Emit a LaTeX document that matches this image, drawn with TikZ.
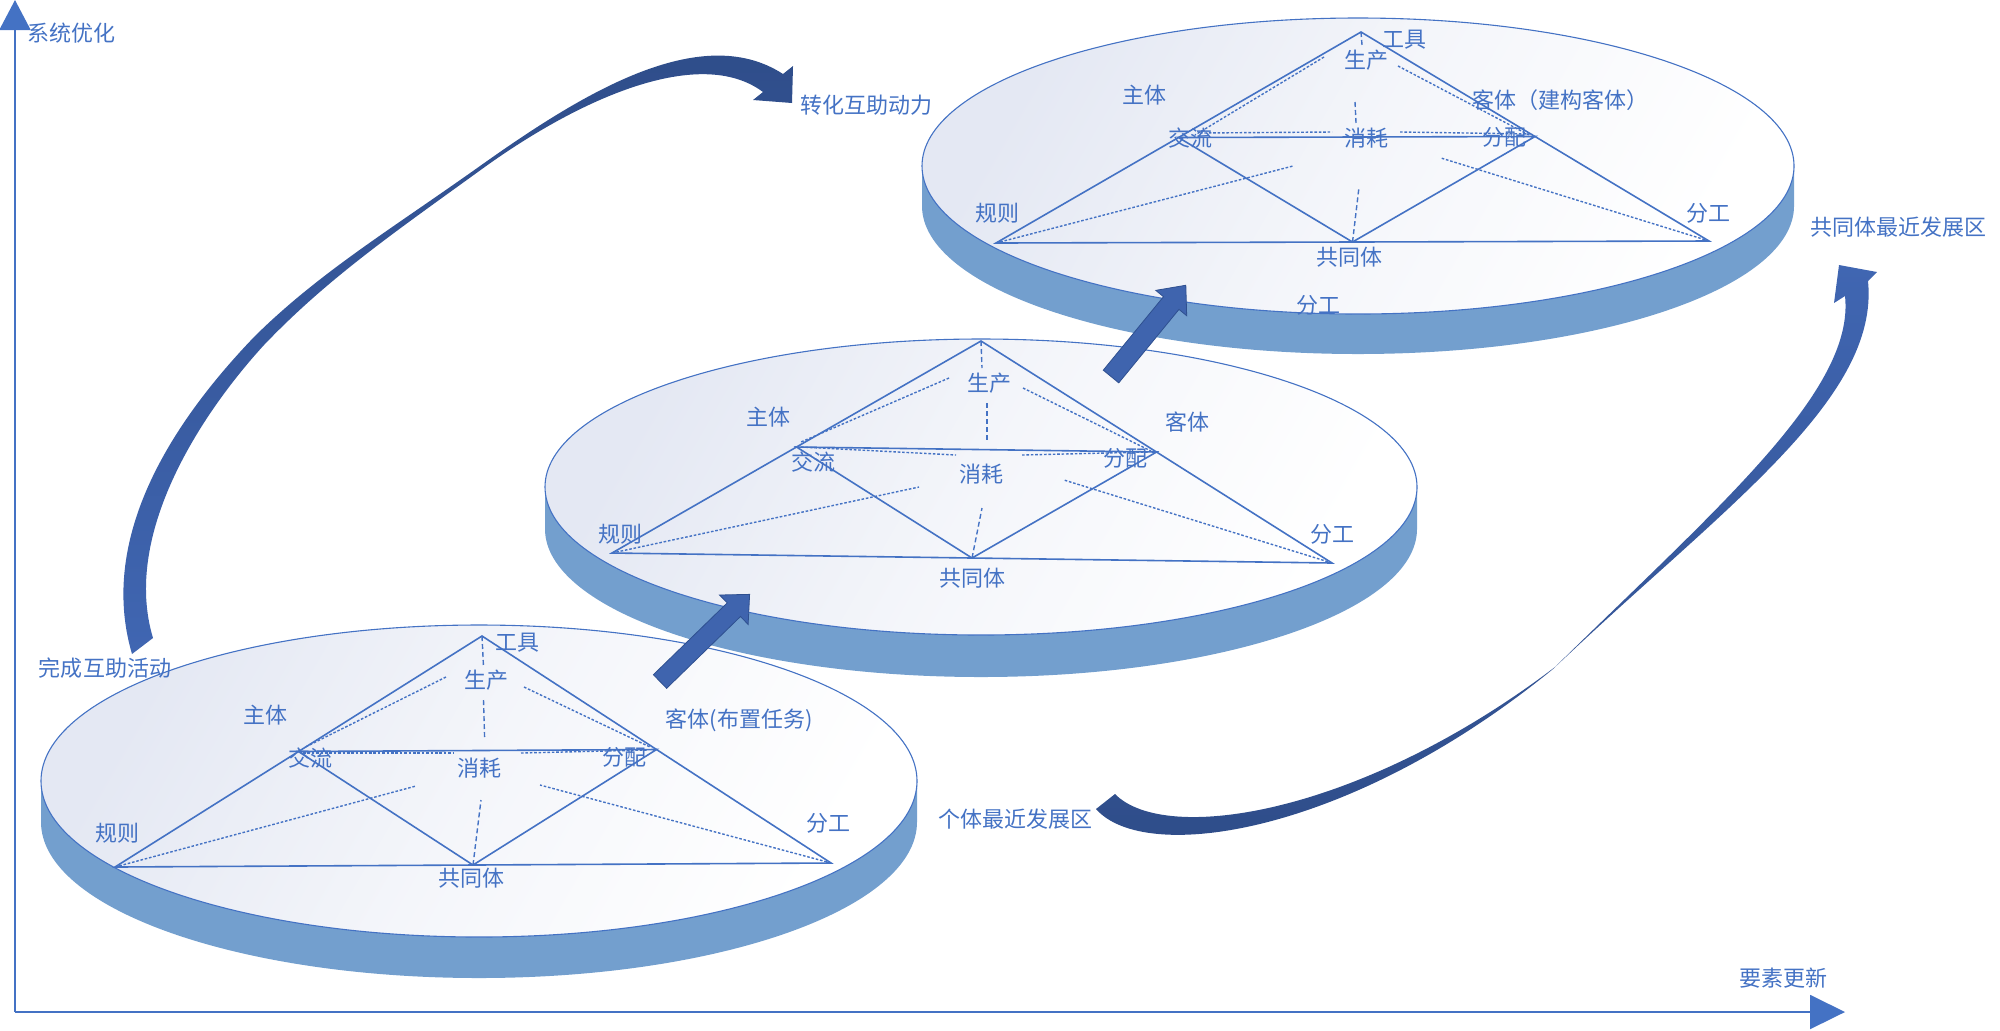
\documentclass[tikz,border=0pt]{standalone}
\usepackage{fontspec}
\setmainfont{Noto Sans CJK SC}
\usetikzlibrary{arrows.meta,calc}
\definecolor{lineblue}{HTML}{4472C4}
\definecolor{textblue}{HTML}{4472C4}
\definecolor{bandblue}{HTML}{739FCE}
\definecolor{faceA}{HTML}{E4E8F3}
\definecolor{arrowdark}{HTML}{2E4C88}
\definecolor{arrowmid}{HTML}{4066B2}
\definecolor{blockfill}{HTML}{3F64AE}
\definecolor{blockedge}{HTML}{2F5090}
\newcommand{\drawdisk}[5]{%
  \fill[bandfill] (#1-#3,#2) -- (#1-#3,#2+#5)
     arc[start angle=180,end angle=0,x radius=#3,y radius=#4]
     -- (#1+#3,#2)
     arc[start angle=0,end angle=180,x radius=#3,y radius=#4] -- cycle;
  \shade[facefill] (#1,#2) ellipse[x radius=#3,y radius=#4];
  \draw[faceline] (#1,#2) ellipse[x radius=#3,y radius=#4];
}
\tikzset{
 bandfill/.style={fill=bandblue},
 facefill/.style={top color=faceA, bottom color=white, middle color=white!60!faceA, shading angle=60},
 faceline/.style={draw=lineblue, line width=0.55pt},
 tri/.style={draw=lineblue, line width=0.8pt},
 dotln/.style={draw=lineblue, line width=0.7pt, dash pattern=on 1.3pt off 0.9pt},
 dashln/.style={draw=lineblue, line width=0.7pt, dash pattern=on 2.5pt off 1.5pt},
 lbl/.style={text=textblue, font=\fontsize{11pt}{13pt}\selectfont, inner sep=0pt},
 axisln/.style={draw=lineblue, line width=1pt},
 blockarrow/.style={fill=blockfill, draw=blockedge, line width=0.4pt},
}
\begin{document}
\begin{tikzpicture}[x=0.5pt,y=-0.5pt]
\useasboundingbox (0,0) rectangle (2000,1030);

% ---------- bottom disk ----------
\drawdisk{479}{781}{438}{156}{41}
\coordinate (bA) at (482,636);
\coordinate (bL) at (115,867);
\coordinate (bR) at (831,863);
\coordinate (bM) at ($(bL)!0.5!(bR)$);
\coordinate (bP) at ($(bA)!0.5!(bL)$);
\coordinate (bQ) at ($(bA)!0.5!(bR)$);
\draw[tri] (bA) -- (bL) -- (bR) -- cycle;
\draw[tri] (bP) -- (bQ) -- (bM) -- cycle;
\draw[dashln] (bA) -- (483.5,667);
\draw[dotln] (446,677) -- (305.5,747);
\draw[dotln] (524,687) -- (650,747);
\draw[dashln] (483.5,700) -- (484.6,738);
\draw[dotln] (303,753) -- (454,753);
\draw[dotln] (521,753) -- (647,750);
\draw[dotln] (bL) -- (416,786);
\draw[dotln] (bR) -- (540,785);
\draw[dashln] (bM) -- (481,800);
\node[lbl] (b1) at (517,643) {工具};
\node[lbl] (b2) at (486,680) {生产};
\node[lbl] (b3) at (265,715) {主体};
\node[lbl] (b4) at (739,720) {客体(布置任务)};
\node[lbl] (b5) at (310,758) {交流};
\node[lbl] (b6) at (479,768) {消耗};
\node[lbl] (b7) at (624,757) {分配};
\node[lbl] (b8) at (117,833) {规则};
\node[lbl] (b9) at (828,823) {分工};
\node[lbl] (b10) at (471,878) {共同体};

% ---------- middle disk ----------
\drawdisk{981}{487}{436}{148}{42}
\coordinate (mA) at (981,341);
\coordinate (mL) at (612,553);
\coordinate (mR) at (1332,563);
\coordinate (mM) at ($(mL)!0.5!(mR)$);
\coordinate (mP) at ($(mA)!0.5!(mL)$);
\coordinate (mQ) at ($(mA)!0.5!(mR)$);
\draw[tri] (mA) -- (mL) -- (mR) -- cycle;
\draw[tri] (mP) -- (mQ) -- (mM) -- cycle;
\draw[dashln] (mA) -- (982,368);
\draw[dotln] (949,378) -- (801,442);
\draw[dotln] (1023,388) -- (1151,451);
\draw[dashln] (987,403) -- (987,440);
\draw[dotln] (801,447) -- (956,455);
\draw[dotln] (1022,455) -- (1148,452);
\draw[dotln] (mL) -- (919,487);
\draw[dotln] (mR) -- (1064,480);
\draw[dashln] (mM) -- (982,508);
\node[lbl] (m1) at (989,383) {生产};
\node[lbl] (m2) at (768,417) {主体};
\node[lbl] (m3) at (1187,422) {客体};
\node[lbl] (m4) at (813,462) {交流};
\node[lbl] (m5) at (981,474) {消耗};
\node[lbl] (m6) at (1125,458) {分配};
\node[lbl] (m7) at (620,534) {规则};
\node[lbl] (m8) at (1332,534) {分工};
\node[lbl] (m9) at (972,578) {共同体};

% ---------- top disk ----------
\drawdisk{1358}{166}{436}{148}{40}
\coordinate (tA) at (1361,32);
\coordinate (tL) at (996,243);
\coordinate (tR) at (1709,241);
\coordinate (tM) at ($(tL)!0.5!(tR)$);
\coordinate (tP) at ($(tA)!0.5!(tL)$);
\coordinate (tQ) at ($(tA)!0.5!(tR)$);
\draw[tri] (tA) -- (tL) -- (tR) -- cycle;
\draw[tri] (tP) -- (tQ) -- (tM) -- cycle;
\draw[dashln] (tA) -- (1362,45);
\draw[dotln] (1324,57) -- (1195,135);
\draw[dotln] (1398,66) -- (1529,135);
\draw[dashln] (1355,102) -- (1356,123);
\draw[dotln] (1200,133) -- (1332,132);
\draw[dotln] (1400,132) -- (1532,134);
\draw[dotln] (tL) -- (1293,166);
\draw[dotln] (tR) -- (1441,158);
\draw[dashln] (tM) -- (1359,187);
\node[lbl] (t1) at (1404,40) {工具};
\node[lbl] (t2) at (1366,60) {生产};
\node[lbl] (t3) at (1144,95) {主体};
\node[lbl] (t4) at (1560,100) {客体（建构客体）};
\node[lbl] (t5) at (1190,138) {交流};
\node[lbl] (t6) at (1366,138) {消耗};
\node[lbl] (t7) at (1504,137) {分配};
\node[lbl] (t8) at (997,213) {规则};
\node[lbl] (t9) at (1708,213) {分工};
\node[lbl] (t10) at (1349,257) {共同体};
\node[lbl] (t11) at (1318,305) {分工};

% ---------- straight block arrows ----------
\begin{scope}[shift={(660,681.5)}, rotate=44.2]
\filldraw[blockarrow] (0,-9.5) -- (103,-9.5) -- (103,-20.5) -- (125,0) -- (103,20.5) -- (103,9.5) -- (0,9.5) -- cycle;
\end{scope}
\begin{scope}[shift={(1111,376.5)}, rotate=50.66]
\filldraw[blockarrow] (0,-10) -- (95,-10) -- (95,-20) -- (118,0) -- (95,20) -- (95,10) -- (0,10) -- cycle;
\end{scope}

% ---------- curved arrows ----------
\shade[top color=arrowdark, bottom color=arrowmid]
 (132,654) .. controls (97,535) and (175,419) .. (255,336)
 .. controls (320,272) and (390,230) .. (480,166)
 .. controls (580,95) and (700,20) .. (783,74)
 -- (793,66) -- (792,103) -- (753,100) -- (763,92)
 .. controls (700,45) and (580,98) .. (482,169)
 .. controls (395,232) and (328,278) .. (264,345)
 .. controls (200,415) and (122,535) .. (153,638) -- cycle;

\shade[top color=arrowmid, bottom color=arrowdark]
 (1096,809) .. controls (1145,865) and (1350,835) .. (1553,669)
 .. controls (1720,510) and (1880,400) .. (1868,281)
 -- (1877,272) -- (1839,265) -- (1834,303) -- (1845,296)
 .. controls (1855,390) and (1720,505) .. (1555,667)
 .. controls (1360,815) and (1165,845) .. (1115,794) -- cycle;

% ---------- axes ----------
\coordinate (O) at (15,1012);
\coordinate (Xe) at (1845,1012);
\coordinate (Ye) at (15,0);
\draw[axisln, -{Triangle[length=17.5pt,width=17pt]}] (O) -- (Xe);
\draw[axisln, -{Triangle[length=15pt,width=15.5pt]}] (O) -- (Ye);

% ---------- other labels ----------
\node[lbl] (l1) at (71,33) {系统优化};
\node[lbl] (l2) at (866,105) {转化互助动力};
\node[lbl] (l3) at (1898,227) {共同体最近发展区};
\node[lbl] (l4) at (1015,819) {个体最近发展区};
\node[lbl] (l5) at (105,668) {完成互助活动};
\node[lbl] (l6) at (1783,978) {要素更新};
\end{tikzpicture}
\end{document}
